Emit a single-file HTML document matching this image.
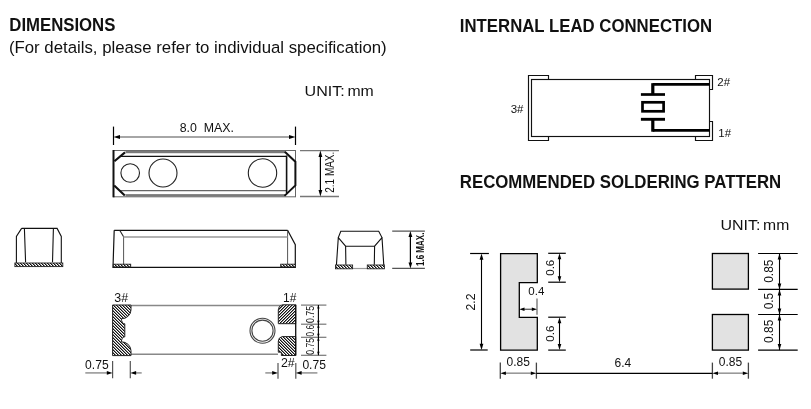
<!DOCTYPE html>
<html><head><meta charset="utf-8"><style>
html,body{margin:0;padding:0;background:#fff;}
svg{display:block;font-family:"Liberation Sans", sans-serif;filter:grayscale(100%);}
</style></head><body>
<svg width="811" height="409" viewBox="0 0 811 409">
<defs>
<pattern id="hb" patternUnits="userSpaceOnUse" x="0" y="0" width="3" height="3"><rect width="3" height="3" fill="#fff"/><rect x="0" y="0" width="1" height="1" fill="#111"/><rect x="1" y="1" width="1" height="1" fill="#111"/><rect x="2" y="2" width="1" height="1" fill="#111"/><rect x="1" y="0" width="1" height="1" fill="#8a8a8a"/><rect x="2" y="1" width="1" height="1" fill="#8a8a8a"/><rect x="0" y="2" width="1" height="1" fill="#8a8a8a"/></pattern>
<pattern id="hf" patternUnits="userSpaceOnUse" x="0" y="0" width="3" height="3"><rect width="3" height="3" fill="#fff"/><rect x="0" y="2" width="1" height="1" fill="#111"/><rect x="1" y="1" width="1" height="1" fill="#111"/><rect x="2" y="0" width="1" height="1" fill="#111"/><rect x="1" y="2" width="1" height="1" fill="#8a8a8a"/><rect x="2" y="1" width="1" height="1" fill="#8a8a8a"/><rect x="0" y="0" width="1" height="1" fill="#8a8a8a"/></pattern>
<pattern id="hs" patternUnits="userSpaceOnUse" x="0" y="0" width="3" height="3"><rect width="3" height="3" fill="#fff"/><rect x="0" y="0" width="1" height="1" fill="#111"/><rect x="1" y="1" width="1" height="1" fill="#111"/><rect x="2" y="2" width="1" height="1" fill="#111"/><rect x="1" y="0" width="1" height="1" fill="#8a8a8a"/><rect x="2" y="1" width="1" height="1" fill="#8a8a8a"/><rect x="0" y="2" width="1" height="1" fill="#8a8a8a"/></pattern>
</defs>
<rect width="811" height="409" fill="#fff"/>
<text x="9.3" y="30.7" font-size="17.7" text-anchor="start" font-weight="bold" textLength="106.1" lengthAdjust="spacingAndGlyphs" fill="#111">DIMENSIONS</text>
<text x="8.9" y="53.4" font-size="16.8" text-anchor="start" fill="#111">(For details, please refer to individual specification)</text>
<text x="304.6" y="95.9" font-size="15.3" text-anchor="start" textLength="40.2" lengthAdjust="spacingAndGlyphs" fill="#111">UNIT:</text>
<text x="347.4" y="95.9" font-size="15.3" text-anchor="start" textLength="26.4" lengthAdjust="spacingAndGlyphs" fill="#111">mm</text>
<text x="459.8" y="31.5" font-size="17.7" text-anchor="start" font-weight="bold" textLength="252.3" lengthAdjust="spacingAndGlyphs" fill="#111">INTERNAL LEAD CONNECTION</text>
<text x="459.8" y="187.8" font-size="17.7" text-anchor="start" font-weight="bold" textLength="321.4" lengthAdjust="spacingAndGlyphs" fill="#111">RECOMMENDED SOLDERING PATTERN</text>
<text x="720.4" y="229.9" font-size="15.3" text-anchor="start" textLength="40.0" lengthAdjust="spacingAndGlyphs" fill="#111">UNIT:</text>
<text x="763.1" y="229.9" font-size="15.3" text-anchor="start" textLength="26.2" lengthAdjust="spacingAndGlyphs" fill="#111">mm</text>
<line x1="113.5" y1="126.6" x2="113.5" y2="145" stroke="#000" stroke-width="1.2"/>
<line x1="295.5" y1="126.6" x2="295.5" y2="145" stroke="#000" stroke-width="1.2"/>
<line x1="118" y1="137" x2="291" y2="137" stroke="#888" stroke-width="1.6"/>
<polygon points="113.50,137.00 120.00,135.10 120.00,138.90" fill="#000"/>
<polygon points="295.50,137.00 289.00,135.10 289.00,138.90" fill="#000"/>
<text x="206.8" y="131.8" font-size="12.35" text-anchor="middle" fill="#111">8.0&#160;&#160;MAX.</text>
<rect x="113.5" y="150.5" width="182" height="46.3" stroke="#666" stroke-width="1.0" fill="none" />
<line x1="113.5" y1="150" x2="113.5" y2="197.3" stroke="#111" stroke-width="2.0"/>
<rect x="125.5" y="150.7" width="159.5" height="2.5" fill="#7a7a7a"/>
<rect x="125.5" y="194.1" width="159.5" height="2.6" fill="#7a7a7a"/>
<line x1="119.8" y1="156.3" x2="286.6" y2="156.3" stroke="#111" stroke-width="1.2"/>
<line x1="119.8" y1="190.6" x2="286.6" y2="190.6" stroke="#666" stroke-width="1.4"/>
<path d="M125,152.4 L114.4,161.3 M114.2,185.5 L124.8,195.6" stroke="#111" stroke-width="2.1" fill="none" />
<path d="M284.8,151.7 L295.4,161.8 L295.4,185.4 L284.5,195.9" stroke="#111" stroke-width="2.0" fill="none" />
<line x1="286.6" y1="155.5" x2="286.6" y2="193" stroke="#111" stroke-width="1.6"/>
<circle cx="130.2" cy="173" r="9.3" stroke="#222" stroke-width="1.1" fill="none"/>
<circle cx="163" cy="173" r="14" stroke="#222" stroke-width="1.1" fill="none"/>
<circle cx="262.5" cy="173" r="14.2" stroke="#222" stroke-width="1.1" fill="none"/>
<line x1="300" y1="150.6" x2="339" y2="150.6" stroke="#777" stroke-width="1.3"/>
<line x1="300" y1="196.5" x2="339" y2="196.5" stroke="#777" stroke-width="1.3"/>
<line x1="320.4" y1="156" x2="320.4" y2="191" stroke="#000" stroke-width="1.2"/>
<polygon points="320.40,150.60 318.50,157.10 322.30,157.10" fill="#000"/>
<polygon points="320.40,196.50 318.50,190.00 322.30,190.00" fill="#000"/>
<text x="334.4" y="172.2" font-size="12" text-anchor="middle" transform="rotate(-90 334.4 172.2)" textLength="41" lengthAdjust="spacingAndGlyphs" fill="#111">2.1 MAX.</text>
<path d="M114.2,230.3 L287.6,230.3 M114.2,230.3 L113,267.3 L295.3,267.3 L295.3,244.6 L287.6,230.3" stroke="#111" stroke-width="1.2" fill="none" />
<path d="M119.7,230.3 L123.6,236.8" stroke="#222" stroke-width="1.1" fill="none" />
<line x1="123.6" y1="236.8" x2="123.6" y2="264.5" stroke="#555" stroke-width="1.0"/>
<line x1="287.6" y1="230.8" x2="287.6" y2="264.5" stroke="#555" stroke-width="1.0"/>
<line x1="123.6" y1="236.9" x2="287.6" y2="236.9" stroke="#999" stroke-width="1.5"/>
<path d="M21.6,228.4 L57.1,228.4 L61.3,236.4 L61.3,263 M21.6,228.4 L16.4,236.4 L16.4,263 M24.4,228.4 L25.6,262.3 M53.4,228.4 L52.5,262.3" stroke="#111" stroke-width="1.1" fill="none" />
<path d="M340.8,231.2 L378.7,231.2 L382,237.6 L374.6,246.2 L345.6,246.2 L338.3,237.6 Z M338.3,237.6 L336.4,265.4 M382,237.6 L383.8,265.4 M345.6,246.2 L345.9,264.8 M374.6,246.2 L374.3,264.8" stroke="#111" stroke-width="1.1" fill="none" />
<line x1="352.6" y1="268.5" x2="367.3" y2="268.5" stroke="#999" stroke-width="1.2"/>
<rect x="14.9" y="263" width="47.9" height="3.6" stroke="#222" stroke-width="0.9" fill="url(#hs)" />
<rect x="113.3" y="264.2" width="17.4" height="2.7" stroke="#222" stroke-width="0.9" fill="url(#hs)" />
<rect x="280.7" y="264.2" width="14.6" height="2.7" stroke="#222" stroke-width="0.9" fill="url(#hs)" />
<rect x="335.5" y="265" width="17.1" height="3.8" stroke="#222" stroke-width="0.9" fill="url(#hs)" />
<rect x="367.3" y="265" width="17.1" height="3.8" stroke="#222" stroke-width="0.9" fill="url(#hs)" />
<line x1="392.2" y1="231.1" x2="424.9" y2="231.1" stroke="#555" stroke-width="1.1"/>
<line x1="392.2" y1="268.4" x2="424.9" y2="268.4" stroke="#555" stroke-width="1.1"/>
<line x1="410.4" y1="236" x2="410.4" y2="263" stroke="#000" stroke-width="1.2"/>
<polygon points="410.40,231.10 408.50,237.10 412.30,237.10" fill="#000"/>
<polygon points="410.40,268.40 408.50,262.40 412.30,262.40" fill="#000"/>
<text x="423.7" y="249.3" font-size="10.5" text-anchor="middle" font-weight="bold" transform="rotate(-90 423.7 249.3)" textLength="33.4" lengthAdjust="spacingAndGlyphs" fill="#111">1.6 MAX.</text>
<line x1="131" y1="305.5" x2="281" y2="305.5" stroke="#888" stroke-width="1.5"/>
<line x1="131" y1="354.2" x2="278" y2="354.2" stroke="#888" stroke-width="1.5"/>
<path d="M112.6,305 H131 V309.8 A9.6,9 0 0 1 121.4,318.8 A3.4,5 0 0 0 124.8,323.8 V336.8 A3.4,5 0 0 0 121.4,341.8 A9.6,9 0 0 1 131,350.8 V355.6 H112.6 Z" stroke="#222" stroke-width="1.0" fill="url(#hb)" />
<path d="M282.2,304.8 H295.7 V323.7 H278.3 V309.8 Q278.6,305.6 282.2,304.8 Z" stroke="#222" stroke-width="1.0" fill="url(#hf)" />
<path d="M278.3,341 Q278.6,337.2 282.2,336.6 H295.7 V355.5 H281.4 V352.2 H278.3 Z" stroke="#222" stroke-width="1.0" fill="url(#hb)" />
<line x1="295.7" y1="304.8" x2="295.7" y2="355.5" stroke="#111" stroke-width="1.3"/>
<circle cx="262.5" cy="330.7" r="12.5" stroke="#444" stroke-width="1.1" fill="none"/>
<circle cx="262.5" cy="330.7" r="10.6" stroke="#444" stroke-width="1.1" fill="none"/>
<text x="114.3" y="301.7" font-size="12.4" text-anchor="start" fill="#111">3#</text>
<text x="283.0" y="301.6" font-size="12" text-anchor="start" fill="#111">1#</text>
<text x="280.9" y="366.8" font-size="12.4" text-anchor="start" fill="#111">2#</text>
<line x1="301" y1="305.1" x2="326.4" y2="305.1" stroke="#777" stroke-width="1.2"/>
<line x1="301" y1="324.2" x2="326.4" y2="324.2" stroke="#777" stroke-width="1.2"/>
<line x1="301" y1="337.3" x2="326.4" y2="337.3" stroke="#777" stroke-width="1.2"/>
<line x1="301" y1="355.3" x2="326.4" y2="355.3" stroke="#777" stroke-width="1.2"/>
<line x1="318.4" y1="305.1" x2="318.4" y2="355.3" stroke="#000" stroke-width="1.1"/>
<polygon points="318.40,305.10 317.20,308.60 319.60,308.60" fill="#000"/>
<polygon points="318.40,324.20 317.20,320.70 319.60,320.70" fill="#000"/>
<polygon points="318.40,324.20 317.20,327.70 319.60,327.70" fill="#000"/>
<polygon points="318.40,337.30 317.20,333.80 319.60,333.80" fill="#000"/>
<polygon points="318.40,337.30 317.20,340.80 319.60,340.80" fill="#000"/>
<polygon points="318.40,355.30 317.20,351.80 319.60,351.80" fill="#000"/>
<text x="314.2" y="314.4" font-size="11.4" text-anchor="middle" transform="rotate(-90 314.2 314.4)" textLength="17.2" lengthAdjust="spacingAndGlyphs" fill="#111">0.75</text>
<text x="314.2" y="330.6" font-size="11.4" text-anchor="middle" transform="rotate(-90 314.2 330.6)" textLength="11.6" lengthAdjust="spacingAndGlyphs" fill="#111">0.6</text>
<text x="314.2" y="346.3" font-size="11.4" text-anchor="middle" transform="rotate(-90 314.2 346.3)" textLength="16.8" lengthAdjust="spacingAndGlyphs" fill="#111">0.75</text>
<line x1="112.6" y1="361" x2="112.6" y2="378.3" stroke="#555" stroke-width="1.2"/>
<line x1="130.3" y1="361" x2="130.3" y2="378.3" stroke="#555" stroke-width="1.2"/>
<line x1="85.3" y1="372.9" x2="108" y2="372.9" stroke="#999" stroke-width="1.6"/>
<polygon points="112.60,372.90 106.80,371.10 106.80,374.70" fill="#000"/>
<line x1="134" y1="372.9" x2="141.7" y2="372.9" stroke="#999" stroke-width="1.6"/>
<polygon points="130.30,372.90 136.10,371.10 136.10,374.70" fill="#000"/>
<text x="85.1" y="368.6" font-size="12.1" text-anchor="start" fill="#111">0.75</text>
<line x1="278" y1="363" x2="278" y2="378.7" stroke="#555" stroke-width="1.2"/>
<line x1="295.8" y1="363" x2="295.8" y2="378.7" stroke="#555" stroke-width="1.2"/>
<line x1="265.3" y1="372.9" x2="273" y2="372.9" stroke="#999" stroke-width="1.6"/>
<polygon points="278.00,372.90 272.20,371.10 272.20,374.70" fill="#000"/>
<line x1="300" y1="372.9" x2="317.4" y2="372.9" stroke="#999" stroke-width="1.6"/>
<polygon points="295.80,372.90 301.60,371.10 301.60,374.70" fill="#000"/>
<text x="302.4" y="368.6" font-size="12.1" text-anchor="start" fill="#111">0.75</text>
<text x="510.7" y="112.7" font-size="11.5" text-anchor="start" fill="#111">3#</text>
<path d="M548.5,79.5 V75.5 H528.5 V140.5 H548.5 V136.5" stroke="#111" stroke-width="1.15" fill="none" />
<rect x="531.5" y="79.5" width="178" height="57" stroke="#111" stroke-width="1.15" fill="none" />
<path d="M695.5,79.5 V75.5 H712.5 V89.5 H709.5" stroke="#111" stroke-width="1.15" fill="none" />
<path d="M709.5,121.5 H712.5 V140.5 H695.5 V136.5" stroke="#111" stroke-width="1.15" fill="none" />
<line x1="652.7" y1="84.4" x2="709.7" y2="84.4" stroke="#000" stroke-width="2.7"/>
<line x1="652.8" y1="83.2" x2="652.8" y2="94.5" stroke="#000" stroke-width="3.2"/>
<line x1="640.9" y1="94.5" x2="665" y2="94.5" stroke="#000" stroke-width="2.7"/>
<rect x="642.5" y="102.3" width="21.1" height="9" stroke="#000" stroke-width="2.7" fill="none" />
<line x1="640.9" y1="119.3" x2="665" y2="119.3" stroke="#000" stroke-width="2.9"/>
<line x1="652.7" y1="130.4" x2="709.7" y2="130.4" stroke="#000" stroke-width="2.7"/>
<line x1="652.8" y1="119.1" x2="652.8" y2="131.7" stroke="#000" stroke-width="3.2"/>
<text x="717.3" y="85.8" font-size="11.5" text-anchor="start" fill="#111">2#</text>
<text x="718.3" y="136.8" font-size="11.5" text-anchor="start" fill="#111">1#</text>
<path d="M500.6,253.6 H537.3 V282.6 H519.3 V317.4 H537.3 V350.1 H500.6 Z" stroke="#000" stroke-width="1.3" fill="#e2e2e2" />
<rect x="712.4" y="253.5" width="36" height="35.6" stroke="#000" stroke-width="1.3" fill="#e2e2e2" />
<rect x="712.4" y="314.5" width="36" height="35.6" stroke="#000" stroke-width="1.3" fill="#e2e2e2" />
<line x1="470.1" y1="253.5" x2="488.9" y2="253.5" stroke="#000" stroke-width="1.2"/>
<line x1="470.2" y1="350" x2="487.7" y2="350" stroke="#000" stroke-width="1.2"/>
<line x1="481.5" y1="258" x2="481.5" y2="345" stroke="#000" stroke-width="1.1"/>
<polygon points="481.50,253.50 479.60,259.70 483.40,259.70" fill="#000"/>
<polygon points="481.50,350.00 479.60,343.80 483.40,343.80" fill="#000"/>
<text x="475.4" y="302" font-size="12.2" text-anchor="middle" transform="rotate(-90 475.4 302)" fill="#111">2.2</text>
<line x1="548.2" y1="253.3" x2="565.8" y2="253.3" stroke="#000" stroke-width="1.2"/>
<line x1="548.2" y1="282.2" x2="565.8" y2="282.2" stroke="#000" stroke-width="1.2"/>
<line x1="559.5" y1="257.3" x2="559.5" y2="278.2" stroke="#000" stroke-width="1.1"/>
<polygon points="559.50,253.30 557.70,259.30 561.30,259.30" fill="#000"/>
<polygon points="559.50,282.20 557.70,276.20 561.30,276.20" fill="#000"/>
<text x="553.7" y="267.75" font-size="11.5" text-anchor="middle" transform="rotate(-90 553.7 267.75)" fill="#111">0.6</text>
<line x1="548.2" y1="317.2" x2="565.8" y2="317.2" stroke="#000" stroke-width="1.2"/>
<line x1="548.2" y1="350.1" x2="565.8" y2="350.1" stroke="#000" stroke-width="1.2"/>
<line x1="559.5" y1="321.2" x2="559.5" y2="346.1" stroke="#000" stroke-width="1.1"/>
<polygon points="559.50,317.20 557.70,323.20 561.30,323.20" fill="#000"/>
<polygon points="559.50,350.10 557.70,344.10 561.30,344.10" fill="#000"/>
<text x="553.7" y="333.65" font-size="11.5" text-anchor="middle" transform="rotate(-90 553.7 333.65)" fill="#111">0.6</text>
<text x="528.3" y="294.6" font-size="11.5" text-anchor="start" fill="#111">0.4</text>
<line x1="537" y1="298.6" x2="537" y2="314.7" stroke="#555" stroke-width="1.1"/>
<line x1="523" y1="309.3" x2="533" y2="309.3" stroke="#666" stroke-width="1.4"/>
<polygon points="519.30,309.30 524.50,307.60 524.50,311.00" fill="#000"/>
<polygon points="537.00,309.30 531.80,307.60 531.80,311.00" fill="#000"/>
<line x1="500.3" y1="362.6" x2="500.3" y2="378.7" stroke="#444" stroke-width="1.3"/>
<line x1="536.4" y1="362.6" x2="536.4" y2="378.7" stroke="#444" stroke-width="1.3"/>
<line x1="712.4" y1="362.6" x2="712.4" y2="378.7" stroke="#444" stroke-width="1.3"/>
<line x1="748.4" y1="362.6" x2="748.4" y2="378.7" stroke="#444" stroke-width="1.3"/>
<line x1="505" y1="373.2" x2="532" y2="373.2" stroke="#999" stroke-width="1.6"/>
<polygon points="500.30,373.20 505.90,371.40 505.90,375.00" fill="#000"/>
<polygon points="536.40,373.20 530.80,371.40 530.80,375.00" fill="#000"/>
<line x1="536.4" y1="373.4" x2="712.4" y2="373.4" stroke="#000" stroke-width="1.2"/>
<line x1="717" y1="373.2" x2="744" y2="373.2" stroke="#999" stroke-width="1.6"/>
<polygon points="712.40,373.20 718.00,371.40 718.00,375.00" fill="#000"/>
<polygon points="748.40,373.20 742.80,371.40 742.80,375.00" fill="#000"/>
<text x="518.3" y="366.3" font-size="12" text-anchor="middle" fill="#111">0.85</text>
<text x="622.9" y="366.7" font-size="12" text-anchor="middle" fill="#111">6.4</text>
<text x="730.4" y="366.3" font-size="12" text-anchor="middle" fill="#111">0.85</text>
<line x1="758.1" y1="253.5" x2="797.7" y2="253.5" stroke="#000" stroke-width="1.2"/>
<line x1="758.1" y1="289.4" x2="797.7" y2="289.4" stroke="#000" stroke-width="1.2"/>
<line x1="758.1" y1="314.5" x2="797.7" y2="314.5" stroke="#000" stroke-width="1.2"/>
<line x1="758.1" y1="350.1" x2="797.7" y2="350.1" stroke="#000" stroke-width="1.2"/>
<line x1="779.5" y1="253.5" x2="779.5" y2="350.1" stroke="#000" stroke-width="1.1"/>
<polygon points="779.50,253.50 777.70,259.50 781.30,259.50" fill="#000"/>
<polygon points="779.50,289.40 777.70,283.40 781.30,283.40" fill="#000"/>
<polygon points="779.50,289.40 777.70,295.40 781.30,295.40" fill="#000"/>
<polygon points="779.50,314.50 777.70,308.50 781.30,308.50" fill="#000"/>
<polygon points="779.50,314.50 777.70,320.50 781.30,320.50" fill="#000"/>
<polygon points="779.50,350.10 777.70,344.10 781.30,344.10" fill="#000"/>
<text x="773.0" y="271.2" font-size="11.9" text-anchor="middle" transform="rotate(-90 773.0 271.2)" fill="#111">0.85</text>
<text x="773.0" y="301.1" font-size="11.9" text-anchor="middle" transform="rotate(-90 773.0 301.1)" fill="#111">0.5</text>
<text x="773.0" y="331.3" font-size="11.9" text-anchor="middle" transform="rotate(-90 773.0 331.3)" fill="#111">0.85</text>
</svg>
</body></html>
